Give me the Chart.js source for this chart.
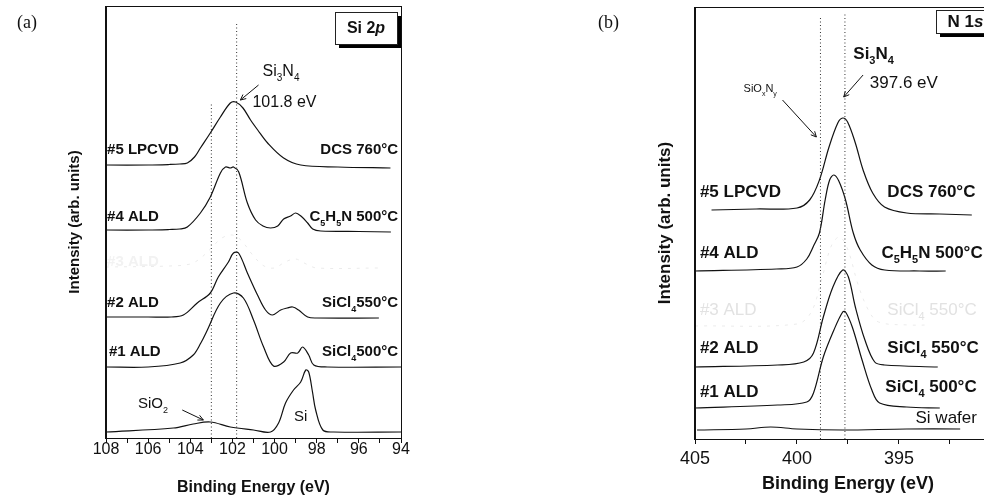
<!DOCTYPE html>
<html>
<head>
<meta charset="utf-8">
<script src="https://cdn.jsdelivr.net/npm/chart.js@4.4.1/dist/chart.umd.min.js"></script>
<style>
  body { margin: 0; background: #fff; overflow: hidden; width: 984px; height: 500px; position: relative; }
  #wa { position: absolute; left: 0; top: 0; }
  #wb { position: absolute; left: 490px; top: 0; }
</style>
</head>
<body>
<div id="wa"><canvas id="ca" width="490" height="500"></canvas></div>
<div id="wb"><canvas id="cb" width="530" height="500"></canvas></div>
<script>
// ---- panel (a) Si 2p : binding energy (eV) / offset intensity ----
var a5x = [108, 106, 105, 104.5, 104.14, 103.8, 103.52, 103.05, 102.57, 102.1, 101.85, 101.5, 101.14, 100.8, 100.33, 99.57, 98.76, 97, 94.5];
var a5y = [273, 273, 273.5, 274, 275, 281, 290, 305, 321, 335, 336, 330, 318, 308, 295, 280, 273, 271, 270];

var a4x = [108, 106, 105, 104.5, 104.14, 103.52, 103.05, 102.57, 102.33, 102.1, 101.95, 101.7, 101.29, 100.9, 100.55, 100.19, 99.85, 99.57, 99.24, 99.0, 98.75, 98.43, 98.19, 97.81, 96, 94.48];
var a4y = [208, 208, 208.5, 209, 211, 225, 241, 265, 271, 270, 271, 266, 235, 218, 212, 210, 212, 219, 222, 225, 222, 215, 209, 207, 206.5, 206];

var a3x = [108, 105, 104, 103.5, 103, 102.5, 102, 101.6, 101, 100.5, 100, 99.5, 99, 98.5, 98, 95];
var a3y = [171, 172, 174, 180, 190, 200, 203, 198, 182, 172, 170, 176, 179, 174, 170, 170];

var a2x = [108, 106, 104.9, 104.33, 103.67, 103.05, 102.67, 102.19, 101.95, 101.71, 101.29, 100.81, 100.43, 100.1, 99.71, 99.4, 99.14, 98.86, 98.43, 98, 95.05];
var a2y = [121, 121, 121, 123, 135, 145, 161, 176, 185, 185, 165, 143, 128, 123, 128, 130, 131, 128, 121, 120, 120];

var a1x = [108, 106, 104.48, 103.86, 103.5, 103.19, 102.57, 101.95, 101.48, 101.0, 100.52, 100.05, 99.57, 99.24, 98.9, 98.67, 98.38, 98.14, 97.5, 94.0];
var a1y = [71, 71, 75, 83, 95, 108, 135, 145, 140, 118, 91, 72, 76, 85, 85, 91, 83, 73, 71, 71];

var a0x = [108, 104.8, 103.86, 103.05, 102.1, 101.0, 100.19, 99.81, 99.48, 99.1, 98.76, 98.52, 98.38, 98.2, 98.05, 97.71, 97.19, 94];
var a0y = [6, 10, 14, 16, 11, 8, 6, 15, 35, 48, 56, 68, 66, 46, 28, 8, 6, 6];

var aRefX = [101.8, 103.0];   // dotted reference lines
var aRefTop = [416, 335];

// ---- panel (b) N 1s ----
var b5x = [404.19, 402, 400, 399.38, 398.9, 398.43, 398.0, 397.76, 397.52, 397.14, 396.76, 396.29, 395.71, 394.62, 393, 391.43];
var b5y = [229, 230, 231, 239, 259, 292, 316, 321, 317, 296, 269, 246, 232, 226, 225, 224];

var b4x = [405, 401, 400, 399.52, 399.19, 398.9, 398.62, 398.4, 398.19, 397.95, 397.62, 397.24, 396.9, 396.33, 395.7, 394, 392.71];
var b4y = [168, 170, 172, 180, 193, 206, 239, 259, 264, 258, 239, 206, 189, 174, 169, 168, 168];

var b3x = [405, 400, 399.3, 398.8, 398.3, 397.9, 397.5, 397, 396.5, 396, 394.5, 393.5];
var b3y = [113, 115, 127, 159, 194, 202, 189, 154, 129, 117, 114, 114];

var b2x = [405, 400.95, 399.67, 399.19, 398.71, 398.24, 397.76, 397.48, 397.14, 396.67, 396.19, 395.71, 393.1];
var b2y = [72, 74, 77, 86, 122, 152, 169, 162, 132, 99, 77, 74, 72];

var b1x = [405, 400.95, 399.52, 399.19, 398.71, 398.19, 397.76, 397.62, 397.29, 396.81, 396.33, 395.95, 394.62, 393];
var b1y = [31, 34, 37, 46, 82, 109, 127, 127, 112, 79, 49, 36, 32, 31];

var b0x = [404.9, 402.5, 401.29, 400, 397.76, 394.62, 392];
var b0y = [9, 10, 12, 10, 9, 10, 10];

var bRefX = [398.85, 397.65];
var bRefTop = [421, 426];

var FONT = "'Liberation Sans', Arial, Helvetica, sans-serif";
Chart.defaults.font.family = FONT;
Chart.defaults.color = '#111';

function pts(xs, ys) {
  return xs.map(function (x, i) { return { x: x, y: ys[i] }; });
}
function curve(xs, ys, faint) {
  return {
    data: pts(xs, ys),
    borderColor: faint ? '#ebebeb' : '#111',
    borderWidth: faint ? 1 : 1.2,
    borderDash: faint ? [3, 6] : [],
    pointRadius: 0,
    tension: 0.35,
    fill: false
  };
}
function refLine(x, top) {
  return {
    data: [{ x: x, y: 0 }, { x: x, y: top }],
    borderColor: '#333',
    borderWidth: 1,
    borderDash: [1, 2.5],
    pointRadius: 0,
    fill: false
  };
}

// text with optional subscripts: parts = [[text, isSub], ...]
function rich(ctx, parts, x, y, size, weight, align, color) {
  var w = 0;
  parts.forEach(function (p) {
    ctx.font = weight + ' ' + (p[1] ? Math.round(size * 0.62) : size) + 'px ' + FONT;
    w += ctx.measureText(p[0]).width;
  });
  var cx = align === 'right' ? x - w : (align === 'center' ? x - w / 2 : x);
  ctx.fillStyle = color || '#111';
  ctx.textBaseline = 'middle';
  ctx.textAlign = 'left';
  parts.forEach(function (p) {
    ctx.font = weight + ' ' + (p[1] ? Math.round(size * 0.62) : size) + 'px ' + FONT;
    ctx.fillText(p[0], cx, y + (p[1] ? size * 0.42 : 0));
    cx += ctx.measureText(p[0]).width;
  });
}
function arrow(ctx, x1, y1, x2, y2) {
  ctx.save();
  ctx.strokeStyle = '#111';
  ctx.lineWidth = 1;
  ctx.beginPath();
  ctx.moveTo(x1, y1);
  ctx.lineTo(x2, y2);
  var a = Math.atan2(y2 - y1, x2 - x1);
  ctx.moveTo(x2, y2);
  ctx.lineTo(x2 - 6 * Math.cos(a - 0.45), y2 - 6 * Math.sin(a - 0.45));
  ctx.moveTo(x2, y2);
  ctx.lineTo(x2 - 6 * Math.cos(a + 0.45), y2 - 6 * Math.sin(a + 0.45));
  ctx.stroke();
  ctx.restore();
}
function box(ctx, l, t, r, b, parts, size) {
  ctx.save();
  ctx.fillStyle = '#000';
  ctx.fillRect(l + 4, t + 4, r - l, b - t);
  ctx.fillStyle = '#fff';
  ctx.fillRect(l, t, r - l, b - t);
  ctx.strokeStyle = '#222';
  ctx.lineWidth = 1;
  ctx.strokeRect(l + 0.5, t + 0.5, r - l, b - t);
  var w = 0;
  parts.forEach(function (p) {
    ctx.font = (p[1] ? 'italic ' : '') + 'bold ' + size + 'px ' + FONT;
    w += ctx.measureText(p[0]).width;
  });
  var cx = (l + r) / 2 - w / 2;
  ctx.fillStyle = '#111';
  ctx.textBaseline = 'middle';
  parts.forEach(function (p) {
    ctx.font = (p[1] ? 'italic ' : '') + 'bold ' + size + 'px ' + FONT;
    ctx.fillText(p[0], cx, (t + b) / 2 + 1);
    cx += ctx.measureText(p[0]).width;
  });
  ctx.restore();
}

function frame(chart) {
  var c = chart.ctx, ca = chart.chartArea;
  c.save();
  c.strokeStyle = '#111';
  c.lineWidth = 1;
  c.strokeRect(ca.left + 0.5, ca.top + 0.5, ca.right - ca.left, ca.bottom - ca.top);
  c.lineWidth = 2;
  c.beginPath();
  c.moveTo(ca.left, ca.top);
  c.lineTo(ca.left, ca.bottom + 1);
  c.stroke();
  c.restore();
}

var annotA = {
  id: 'annotA',
  afterDraw: function (chart) {
    var c = chart.ctx, xs = chart.scales.x, ys = chart.scales.y;
    function X(v) { return xs.getPixelForValue(v); }
    function Y(v) { return ys.getPixelForValue(v); }
    frame(chart);
    c.save();
    var B = 'bold', N = 'normal';
    rich(c, [['#5 LPCVD', 0]], X(107.95), Y(288), 15, B, 'left');
    rich(c, [['DCS 760°C', 0]], X(94.14), Y(288), 15, B, 'right');
    rich(c, [['#4 ALD', 0]], X(107.95), Y(221), 15, B, 'left');
    rich(c, [['C', 0], ['5', 1], ['H', 0], ['5', 1], ['N 500°C', 0]], X(94.14), Y(221), 15, B, 'right');
    rich(c, [['#3 ALD', 0]], X(107.95), Y(176), 15, B, 'left', '#f2f2f2');
    rich(c, [['#2 ALD', 0]], X(107.95), Y(135), 15, B, 'left');
    rich(c, [['SiCl', 0], ['4', 1], ['550°C', 0]], X(94.14), Y(135), 15, B, 'right');
    rich(c, [['#1 ALD', 0]], X(107.86), Y(86), 15, B, 'left');
    rich(c, [['SiCl', 0], ['4', 1], ['500°C', 0]], X(94.14), Y(86), 15, B, 'right');
    rich(c, [['SiO', 0], ['2', 1]], X(106.48), Y(34), 15, N, 'left');
    arrow(c, X(104.38), Y(28), X(103.38), Y(18));
    rich(c, [['Si', 0]], X(98.76), Y(21), 15, N, 'center');
    rich(c, [['Si', 0], ['3', 1], ['N', 0], ['4', 1]], X(100.57), Y(366), 16, N, 'left');
    rich(c, [['101.8 eV', 0]], X(101.05), Y(335), 16, N, 'left');
    arrow(c, X(100.76), Y(353), X(101.62), Y(338));
    box(c, 335, 12, 397, 44, [['Si 2', 0], ['p', 1]], 16);
    c.font = '18px "Liberation Serif", "DejaVu Serif", serif';
    c.fillStyle = '#111';
    c.textBaseline = 'middle';
    c.textAlign = 'left';
    c.fillText('(a)', 17, 23);
    c.restore();
  }
};

var annotB = {
  id: 'annotB',
  afterDraw: function (chart) {
    var c = chart.ctx, xs = chart.scales.x, ys = chart.scales.y;
    function X(v) { return xs.getPixelForValue(v); }
    function Y(v) { return ys.getPixelForValue(v); }
    frame(chart);
    c.save();
    var B = 'bold', N = 'normal';
    rich(c, [['#5 LPCVD', 0]], X(404.76), Y(247), 17, B, 'left');
    rich(c, [['DCS 760°C', 0]], X(395.57), Y(247), 17, B, 'left');
    rich(c, [['#4 ALD', 0]], X(404.76), Y(186), 17, B, 'left');
    rich(c, [['C', 0], ['5', 1], ['H', 0], ['5', 1], ['N 500°C', 0]], X(395.86), Y(186), 17, B, 'left');
    rich(c, [['#3 ALD', 0]], X(404.76), Y(129), 17, N, 'left', '#e2e2e2');
    rich(c, [['SiCl', 0], ['4', 1], [' 550°C', 0]], X(395.57), Y(129), 17, N, 'left', '#e2e2e2');
    rich(c, [['#2 ALD', 0]], X(404.76), Y(91), 17, B, 'left');
    rich(c, [['SiCl', 0], ['4', 1], [' 550°C', 0]], X(395.57), Y(91), 17, B, 'left');
    rich(c, [['#1 ALD', 0]], X(404.76), Y(47), 17, B, 'left');
    rich(c, [['SiCl', 0], ['4', 1], [' 500°C', 0]], X(395.67), Y(52), 17, B, 'left');
    rich(c, [['Si wafer', 0]], X(394.19), Y(21), 17, N, 'left');
    rich(c, [['Si', 0], ['3', 1], ['N', 0], ['4', 1]], X(397.24), Y(385), 17, B, 'left');
    rich(c, [['397.6 eV', 0]], X(396.43), Y(356), 17, N, 'left');
    arrow(c, X(396.76), Y(364), X(397.71), Y(342));
    rich(c, [['SiO', 0], ['x', 1], ['N', 0], ['y', 1]], X(402.62), Y(350), 11, N, 'left');
    arrow(c, X(400.71), Y(339), X(399.05), Y(302));
    box(c, 446, 10, 505, 33, [['N 1', 0], ['s', 1]], 17);
    c.font = '18px "Liberation Serif", "DejaVu Serif", serif';
    c.fillStyle = '#111';
    c.textBaseline = 'middle';
    c.textAlign = 'left';
    c.fillText('(b)', 108, 23);
    c.restore();
  }
};

function xAxis(min, max, step, major, h, pad, titlePad, fs) {
  return {
    type: 'linear', min: min, max: max, reverse: true,
    afterFit: function (s) { s.height = h; },
    border: { display: false },
    grid: { drawOnChartArea: false, drawTicks: true, tickLength: 5, color: '#111', lineWidth: 1 },
    ticks: {
      stepSize: step, autoSkip: false, maxRotation: 0, padding: pad, color: '#111',
      font: { size: fs },
      callback: function (v) { return Math.abs(v % major) < 1e-6 ? String(v) : ''; }
    },
    title: { display: true, text: 'Binding Energy (eV)', color: '#111', font: { size: fs, weight: 'bold' }, padding: { top: 0, bottom: titlePad } }
  };
}
function yAxis(w, titlePad, fs) {
  return {
    min: 0, max: 432,
    afterFit: function (s) { s.width = w; },
    border: { display: false },
    grid: { display: false },
    ticks: { display: false },
    title: { display: true, text: 'Intensity (arb. units)', color: '#111', font: { size: fs, weight: 'bold' }, padding: { top: titlePad, bottom: 0 } }
  };
}

new Chart(document.getElementById('ca'), {
  type: 'line',
  data: {
    datasets: [
      refLine(aRefX[0], aRefTop[0]), refLine(aRefX[1], aRefTop[1]),
      curve(a3x, a3y, true),
      curve(a5x, a5y), curve(a4x, a4y), curve(a2x, a2y), curve(a1x, a1y), curve(a0x, a0y)
    ]
  },
  options: {
    responsive: false, animation: false,
    layout: { padding: { left: 0, top: 6, right: 89, bottom: 0 } },
    plugins: { legend: { display: false }, tooltip: { enabled: false } },
    scales: { x: xAxis(94, 108, 1, 2, 62, -3, 3, 16), y: yAxis(106, 66, 15) }
  },
  plugins: [annotA]
});

new Chart(document.getElementById('cb'), {
  type: 'line',
  data: {
    datasets: [
      refLine(bRefX[0], bRefTop[0]), refLine(bRefX[1], bRefTop[1]),
      curve(b3x, b3y, true),
      curve(b5x, b5y), curve(b4x, b4y), curve(b2x, b2y), curve(b1x, b1y), curve(b0x, b0y)
    ]
  },
  options: {
    responsive: false, animation: false,
    layout: { padding: { left: 0, top: 7, right: 10, bottom: 0 } },
    plugins: { legend: { display: false }, tooltip: { enabled: false } },
    scales: { x: xAxis(390, 405, 2.5, 5, 61, 4, 5, 18), y: yAxis(205, 165, 17) }
  },
  plugins: [annotB]
});
</script>
</body>
</html>
